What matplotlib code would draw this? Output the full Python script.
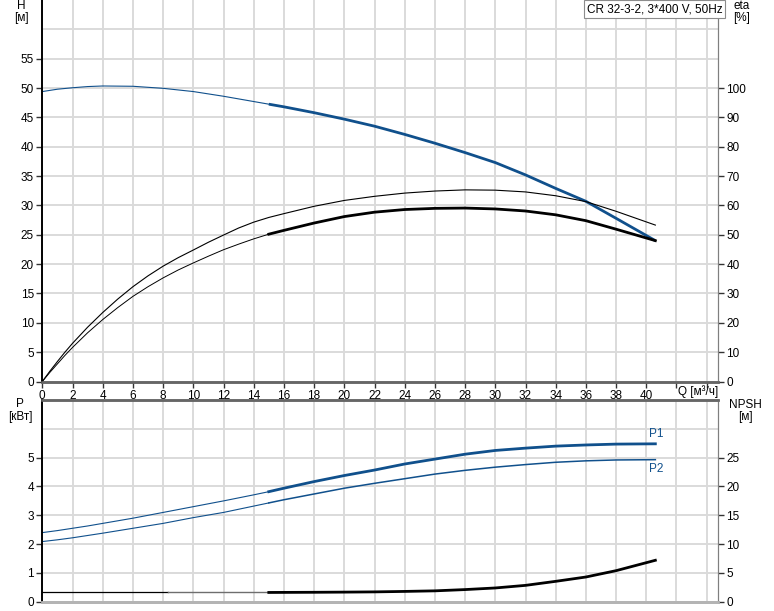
import numpy as np
import matplotlib
matplotlib.use("Agg")
import matplotlib.pyplot as plt

plt.rcParams['font.family'] = ['Liberation Sans', 'DejaVu Sans']

# flow points [m3/h]
q = [0, 1, 2, 3, 4, 6, 8, 10, 12, 14, 15, 16, 18, 20, 22, 24, 26, 28, 30, 32, 34, 36, 38, 40.6]
head = [49.4, 49.8, 50.05, 50.25, 50.35, 50.3, 49.95, 49.4, 48.6, 47.7, 47.25, 46.8, 45.8, 44.7,
        43.5, 42.1, 40.6, 39.0, 37.3, 35.2, 32.9, 30.7, 27.8, 24.0]
p1 = [2.40, 2.47, 2.55, 2.63, 2.72, 2.90, 3.10, 3.30, 3.50, 3.71, 3.82, 3.94, 4.17, 4.38, 4.57,
      4.78, 4.95, 5.12, 5.25, 5.33, 5.40, 5.44, 5.47, 5.48]
p2 = [2.09, 2.15, 2.22, 2.30, 2.38, 2.55, 2.72, 2.92, 3.10, 3.32, 3.43, 3.54, 3.74, 3.94, 4.11,
      4.27, 4.43, 4.56, 4.67, 4.76, 4.84, 4.89, 4.92, 4.93]

# efficiency curves, read with more points near the origin
q_eta = [0, 0.5, 1, 1.5, 2, 3, 4, 5, 6, 7, 8, 9, 10, 11, 12, 13, 14, 15, 16, 18, 20, 22, 24,
         26, 28, 30, 32, 34, 36, 38, 40.6]
eta_pump = [0, 3.5, 6.8, 10.0, 13.0, 18.5, 23.5, 28.1, 32.3, 36.0, 39.3, 42.2, 44.8, 47.45, 49.9,
            52.3, 54.3, 55.9, 57.2, 59.7, 61.7, 63.1, 64.2, 64.9, 65.3, 65.2, 64.6, 63.3, 61.3,
            58.0, 53.3]
eta_tot = [0, 3.1, 6.0, 8.9, 11.6, 16.6, 21.1, 25.2, 29.0, 32.3, 35.3, 38.0, 40.4, 42.7, 44.9,
           46.8, 48.6, 50.2, 51.5, 54.0, 56.2, 57.7, 58.6, 59.0, 59.1, 58.8, 58.1, 56.8, 54.8,
           51.9, 48.0]

npsh_q = [0, 8.3, 15, 18, 20, 22, 24, 26, 28, 30, 32, 34, 36, 38, 40.6]
npsh = [1.62, 1.62, 1.62, 1.65, 1.68, 1.72, 1.8, 1.9, 2.12, 2.4, 2.85, 3.55, 4.3, 5.4, 7.2]

title = "CR 32-3-2, 3*400 V, 50Hz"
blue = '#10508c'
grid_c = '#dadada'
W, H_ = 774, 611

q = np.array(q)
k = list(q).index(15)  # thin part before 15 m3/h, thick after
qe = np.array(q_eta)
ke = q_eta.index(15)
nq = np.array(npsh_q)


def fx(px):
    return px / W


def fy(py):
    return 1 - py / H_


fig = plt.figure(figsize=(7.74, 6.11), dpi=100)

# ---- top panel: H and eta
ax = fig.add_axes([fx(42.3), fy(381.5), fx(718) - fx(42.3), fy(0) - fy(381.5)])
ax.set_xlim(0, (718 - 42.3) / 15.1)
ax.set_ylim(0, 65)
ax.set_xticks(np.arange(0, 45, 2))
ax.set_xticklabels([str(v) if v <= 40 else '' for v in range(0, 45, 2)])
ax.set_yticks(np.arange(0, 56, 5))
ax.grid(True, color=grid_c, lw=1.4)
ax.axhline(60, color=grid_c, lw=1.4, zorder=0.5)
ax.set_axisbelow(True)

ax.plot(q[:k + 1], head[:k + 1], color=blue, lw=0.8)
ax.plot(q[k:], head[k:], color=blue, lw=2.0, solid_capstyle='butt')

ax2 = ax.twinx()
ax2.set_ylim(0, 130)
ax2.set_yticks(np.arange(0, 101, 10))
ax2.plot(qe, eta_pump, color='black', lw=0.8)
ax2.plot(qe[:ke + 1], eta_tot[:ke + 1], color='black', lw=0.7)
ax2.plot(qe[ke:], eta_tot[ke:], color='black', lw=2.0)

for a in (ax, ax2):
    a.tick_params(direction='out', length=4, width=1, pad=2, labelsize=8.5, colors='#333333',
                  labelcolor='black')
    a.spines['top'].set_visible(False)
    a.spines['left'].set_color('black')
    a.spines['left'].set_linewidth(1.2)
    a.spines['right'].set_color('#7f7f7f')
    a.spines['bottom'].set_color('#666666')
    a.spines['bottom'].set_linewidth(1.8)

# ---- bottom panel: P and NPSH
bx = fig.add_axes([fx(42.3), fy(601.8), fx(718) - fx(42.3), fy(400) - fy(601.8)])
bx.set_xlim(ax.get_xlim())
bx.set_ylim(0, 7)
bx.set_xticks(np.arange(0, 45, 2))
bx.set_yticks(np.arange(0, 6, 1))
bx.grid(True, color=grid_c, lw=1.4)
bx.axhline(6, color=grid_c, lw=1.4, zorder=0.5)
bx.set_axisbelow(True)

bx.plot(q[:k + 1], p1[:k + 1], color=blue, lw=0.8)
bx.plot(q[k:], p1[k:], color=blue, lw=2.0)
bx.plot(q[:k + 1], p2[:k + 1], color=blue, lw=0.8)
bx.plot(q[k:], p2[k:], color=blue, lw=1.1)
bx.text(q[-1] - 0.4, p1[-1] + 0.12, 'P1', color=blue, fontsize=8.5, ha='left', va='bottom')
bx.text(q[-1] - 0.4, p2[-1] - 0.12, 'P2', color=blue, fontsize=8.5, ha='left', va='top')

bx2 = bx.twinx()
bx2.set_ylim(0, 35)
bx2.set_yticks(np.arange(0, 26, 5))
bx2.plot(nq[:2], npsh[:2], color='black', lw=0.9)
bx2.plot(nq[1:3], npsh[1:3], color='#6e6e6e', lw=1.0)
bx2.plot(nq[2:], npsh[2:], color='black', lw=2.0)

for a in (bx, bx2):
    a.tick_params(direction='out', length=4, width=1, pad=2, labelsize=8.5, colors='#333333',
                  labelcolor='black')
    a.tick_params(axis='x', length=0, labelbottom=False)
    a.spines['top'].set_color('#666666')
    a.spines['top'].set_linewidth(1.8)
    a.spines['left'].set_color('black')
    a.spines['left'].set_linewidth(1.2)
    a.spines['right'].set_color('#7f7f7f')
    a.spines['bottom'].set_color('#b4b4b4')
    a.spines['bottom'].set_linewidth(2.0)

# ---- axis captions
fs = 8.5
fig.text(fx(21.7), fy(6), 'H', ha='center', va='center', fontsize=fs)
fig.text(fx(21.7), fy(18), '[м]', ha='center', va='center', fontsize=fs)
fig.text(fx(741.7), fy(6), 'eta', ha='center', va='center', fontsize=fs)
fig.text(fx(741.7), fy(18), '[%]', ha='center', va='center', fontsize=fs)
fig.text(fx(20), fy(404), 'P', ha='center', va='center', fontsize=fs)
fig.text(fx(20), fy(417), '[кВт]', ha='center', va='center', fontsize=fs)
fig.text(fx(745.7), fy(405), 'NPSH', ha='center', va='center', fontsize=fs)
fig.text(fx(745.7), fy(417), '[м]', ha='center', va='center', fontsize=fs)
fig.text(fx(678), fy(392), 'Q [м³/ч]', ha='left', va='center', fontsize=fs)
fig.text(fx(654.5), fy(9), title, ha='center', va='center', fontsize=fs,
         bbox=dict(boxstyle='square,pad=0.25', fc='white', ec='#8c8c8c', lw=0.8))

fig.savefig('out.png', dpi=100)
